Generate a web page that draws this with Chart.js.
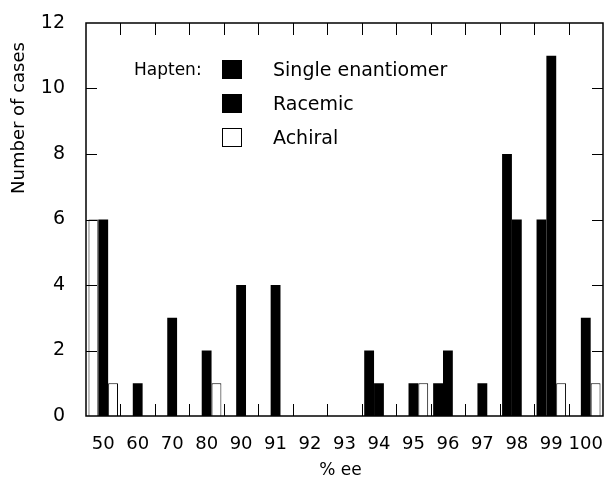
<!DOCTYPE html>
<html>
<head>
<meta charset="utf-8">
<script src="https://cdn.jsdelivr.net/npm/chart.js@4/dist/chart.umd.min.js"></script>
<style>
  html, body { margin: 0; padding: 0; background: #fff; }
  #wrap { width: 608px; height: 482px; }
</style>
</head>
<body>
<div id="wrap"><canvas id="c" width="608" height="482"></canvas></div>
<script>
// ---- data ----
const categories = ['50','60','70','80','90','91','92','93','94','95','96','97','98','99','100'];
const singleEnantiomer = [6,0,0,0,0,0,0,0,2,0,1,0,8,6,0];
const racemic          = [6,1,3,2,4,4,0,0,1,1,2,1,6,11,3];
const achiral          = [1,0,0,1,0,0,0,0,0,1,0,0,0,1,1];
const yTicks = [0,2,4,6,8,10,12];
const legendTitle = 'Hapten:';
const legendLabels = ['Single enantiomer','Racemic','Achiral'];
const xTitle = '% ee';
const yTitle = 'Number of cases';

const FONT = '"DejaVu Sans", sans-serif';

const framePlugin = {
  id: 'frame',
  afterDatasetsDraw(chart) {
    const ctx = chart.ctx;
    const a = chart.chartArea;
    const x = chart.scales.x, y = chart.scales.y;
    ctx.save();
    ctx.strokeStyle = '#000';
    ctx.lineWidth = 1.5;
    ctx.strokeRect(a.left, a.top, a.right - a.left, a.bottom - a.top);
    ctx.lineWidth = 1;
    // y ticks inward, left and right
    yTicks.forEach(v => {
      if (v === yTicks[0] || v === yTicks[yTicks.length - 1]) return;
      const py = Math.round(y.getPixelForValue(v)) + 0.5;
      ctx.beginPath();
      ctx.moveTo(a.left, py); ctx.lineTo(a.left + 11, py);
      ctx.moveTo(a.right, py); ctx.lineTo(a.right - 11, py);
      ctx.stroke();
    });
    // x ticks at category boundaries, top and bottom, inward
    for (let i = 0; i < categories.length - 1; i++) {
      const px = Math.round((x.getPixelForValue(i) + x.getPixelForValue(i + 1)) / 2) + 0.5;
      ctx.beginPath();
      ctx.moveTo(px, a.bottom); ctx.lineTo(px, a.bottom - 12);
      ctx.moveTo(px, a.top); ctx.lineTo(px, a.top + 12);
      ctx.stroke();
    }
    // legend
    ctx.fillStyle = '#000';
    ctx.font = '17px ' + FONT;
    ctx.textBaseline = 'middle';
    ctx.textAlign = 'left';
    ctx.fillText(legendTitle, 134, 71);
    ctx.font = '19px ' + FONT;
    const fills = ['#000', '#000', '#fff'];
    legendLabels.forEach((lab, i) => {
      const cy = 70 + i * 34;
      ctx.fillStyle = fills[i];
      ctx.fillRect(222, cy - 10, 20, 19);
      if (fills[i] === '#fff') {
        ctx.strokeStyle = '#000';
        ctx.lineWidth = 1;
        ctx.strokeRect(222.5, cy - 9.5, 19, 18);
      }
      ctx.fillStyle = '#000';
      ctx.fillText(lab, 273, cy + 1);
    });
    // axis titles
    ctx.font = '17px ' + FONT;
    ctx.textAlign = 'center';
    ctx.fillText(xTitle, (a.left + a.right) / 2 - 4, 471);
    ctx.save();
    ctx.translate(19, 118);
    ctx.rotate(-Math.PI / 2);
    ctx.font = '18px ' + FONT;
    ctx.fillText(yTitle, 0, 0);
    ctx.restore();
    ctx.restore();
  }
};

const common = { categoryPercentage: 0.856, barPercentage: 1.0, borderSkipped: 'start' };

new Chart(document.getElementById('c'), {
  type: 'bar',
  data: {
    labels: categories,
    datasets: [
      Object.assign({
        label: legendLabels[0], data: singleEnantiomer,
        // the first bar at 50 % ee is drawn hollow in the original figure
        backgroundColor: c => c.dataIndex === 0 ? '#fff' : '#000',
        borderColor: '#000',
        borderWidth: c => c.dataIndex === 0 ? 1 : 0
      }, common),
      Object.assign({
        label: legendLabels[1], data: racemic,
        backgroundColor: '#000', borderWidth: 0
      }, common),
      Object.assign({
        label: legendLabels[2], data: achiral,
        backgroundColor: '#fff', borderColor: '#000', borderWidth: 1
      }, common)
    ]
  },
  options: {
    responsive: false,
    animation: false,
    devicePixelRatio: 1,
    layout: { padding: { top: 23, right: 5, left: 0, bottom: 0 } },
    plugins: { legend: { display: false }, tooltip: { enabled: false } },
    scales: {
      x: {
        offset: true,
        grid: { display: false, drawTicks: false },
        border: { display: false },
        ticks: { color: '#000', font: { family: FONT, size: 18 }, padding: 18, maxRotation: 0, autoSkip: false },
        afterFit: s => { s.height = 66; s.paddingLeft = 0; s.paddingRight = 0; }
      },
      y: {
        min: 0, max: 12,
        grid: { display: false, drawTicks: false },
        border: { display: false },
        ticks: { color: '#000', stepSize: 2, font: { family: FONT, size: 19 }, padding: 21 },
        afterFit: s => { s.width = 86; s.paddingTop = 0; s.paddingBottom = 0; }
      }
    }
  },
  plugins: [framePlugin]
});
</script>
</body>
</html>
